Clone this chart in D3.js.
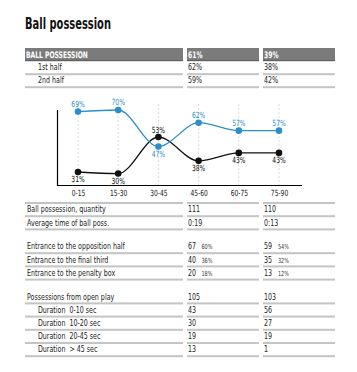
<!DOCTYPE html>
<html><head><meta charset="utf-8">
<script src="https://cdn.jsdelivr.net/npm/d3@7"></script>
<style>
body{margin:0;background:#fff;}
svg text{font-family:"DejaVu Sans Condensed","DejaVu Sans",sans-serif;white-space:pre;}
</style></head><body>
<svg id="c" width="357" height="372"></svg>
<script>
// ---- data ----
const title = "Ball possession";
const headerCells = ["BALL POSSESSION", "61%", "39%"];
const halfLabels = ["1st half", "2nd half"];
const halfA = ["62%", "59%"];
const halfB = ["38%", "42%"];
const intervals = ["0-15", "15-30", "30-45", "45-60", "60-75", "75-90"];
const teamA = [69, 70, 47, 62, 57, 57];
const teamB = [31, 30, 53, 38, 43, 43];
const group1Labels = ["Ball possession, quantity", "Average time of ball poss."];
const group1A = ["111", "0:19"];
const group1B = ["110", "0:13"];
const entranceLabels = ["Entrance to the opposition half", "Entrance to the final third", "Entrance to the penalty box"];
const entranceA = ["67", "40", "20"];
const entranceAPct = ["60%", "36%", "18%"];
const entranceB = ["59", "35", "13"];
const entranceBPct = ["54%", "32%", "12%"];
const possLabels = ["Possessions from open play", "Duration  0-10 sec", "Duration  10-20 sec", "Duration  20-45 sec", "Duration  > 45 sec"];
const possIndent = [false, true, true, true, true];
const possA = ["105", "43", "30", "19", "13"];
const possB = ["103", "56", "27", "19", "1"];

// ---- layout ----
const svg = d3.select("#c");
const cols = [[25, 183], [187, 259], [263, 335]];
const colTextX = [27, 188, 264];
const rowH = 13.2;
const lineColor = "#c4c4c4";
const blue = "#2b8fcc", black = "#111";

// calibrate horizontal squeeze so the installed font matches the narrow reference face
function measure(str, size, weight) {
  const t = svg.append("text").attr("font-size", size).attr("font-weight", weight || "normal").text(str);
  const w = t.node().getComputedTextLength();
  t.remove();
  return w;
}
const sxBody = 98 / measure("Entrance to the opposition half", 9);
const sxTitle = 86 / measure(title, 15, "bold");
const sxHead = 62 / measure("BALL POSSESSION", 9, "bold");

function txt(parent, x, y, str, size, opts) {
  opts = opts || {};
  const t = parent.append("text")
    .attr("transform", `translate(${x},${y}) scale(${opts.sx || sxBody},1)`)
    .attr("font-size", size).attr("fill", opts.fill || "#222").text(str);
  if (opts.weight) t.attr("font-weight", opts.weight);
  if (opts.anchor) t.attr("text-anchor", opts.anchor);
  return t;
}

txt(svg, 25, 29, title, 15, { weight: "bold", fill: "#111", sx: sxTitle });

// header
cols.forEach((c, i) => {
  svg.append("rect").attr("x", c[0]).attr("y", 48).attr("width", c[1] - c[0]).attr("height", 13).attr("fill", "#7b7b7b");
  svg.append("rect").attr("x", c[0]).attr("y", 60).attr("width", c[1] - c[0]).attr("height", 1.2).attr("fill", "#5e5e5e");
  txt(svg, colTextX[i] - (i === 0 ? 1 : 0), 57.8, headerCells[i], 9, { weight: "bold", fill: "#fff", sx: sxHead });
});

function rowLines(yb) {
  cols.forEach(c => {
    svg.append("rect").attr("x", c[0]).attr("y", yb - 1).attr("width", c[1] - c[0]).attr("height", 2).attr("fill", lineColor);
  });
}
function textRow(y, label, a, b, indent, aPct, bPct) {
  const base = y + rowH - 3.8;
  txt(svg, indent ? 38 : 27, base, label, 9);
  txt(svg, colTextX[1], base, a, 9);
  txt(svg, colTextX[2], base, b, 9);
  if (aPct) txt(svg, colTextX[1] + 13.5, base, aPct, 7, { fill: "#333" });
  if (bPct) txt(svg, colTextX[2] + 14, base, bPct, 7, { fill: "#333" });
  rowLines(y + rowH);
}

let y = 61;
halfLabels.forEach((l, i) => { textRow(y, l, halfA[i], halfB[i], true); y += 13; });

// ---- chart ----
const chartBottom = 203;
const x = d3.scalePoint().domain(intervals).range([78, 279]);
const yS = d3.scaleLinear().domain([23, 71]).range([184.7, 108.4]);
const axisY0 = 185, axisX0 = 57, axisX1 = 302;

const g = svg.append("g");
g.selectAll("line.grid").data(intervals).join("line")
  .attr("x1", d => x(d)).attr("x2", d => x(d)).attr("y1", 104).attr("y2", axisY0)
  .attr("stroke", "#dcdcdc").attr("stroke-dasharray", "2,2").attr("stroke-width", 1);
const xAxis = d3.axisBottom(x).tickSize(0).tickPadding(5);
const xa = g.append("g").attr("transform", `translate(0,${axisY0})`).call(xAxis);
xa.select(".domain").remove();
xa.selectAll("text").attr("font-size", 8.5).attr("fill", "#222")
  .attr("font-family", '"DejaVu Sans Condensed","DejaVu Sans",sans-serif')
  .attr("transform", `scale(${sxBody},1)`);
g.append("line").attr("x1", axisX0).attr("x2", axisX1).attr("y1", axisY0 + 0.5).attr("y2", axisY0 + 0.5).attr("stroke", "#000").attr("stroke-width", 1.2);
g.append("line").attr("x1", axisX0 + 0.5).attr("x2", axisX0 + 0.5).attr("y1", 110).attr("y2", axisY0 + 1).attr("stroke", "#000").attr("stroke-width", 1.2);

const line = d3.line().x((d, i) => x(intervals[i])).y(d => yS(d)).curve(d3.curveMonotoneX);
[[teamB, black], [teamA, blue]].forEach(([vals, col]) => {
  g.append("path").attr("d", line(vals)).attr("fill", "none").attr("stroke", col).attr("stroke-width", 1.3);
});
[[teamB, black, teamA], [teamA, blue, teamB]].forEach(([vals, col, other]) => {
  g.selectAll(null).data(vals).join("circle")
    .attr("cx", (d, i) => x(intervals[i])).attr("cy", d => yS(d)).attr("r", 3.3).attr("fill", col);
  vals.forEach((d, i) => {
    const ly = d >= other[i] ? yS(d) - 4.5 : yS(d) + 10.5;
    txt(g, x(intervals[i]), ly, d + "%", 8.5, { fill: col, anchor: "middle" });
  });
});
rowLines(chartBottom);

// ---- lower table ----
y = chartBottom;
group1Labels.forEach((l, i) => { textRow(y, l, group1A[i], group1B[i], false); y += rowH; });
y += 10.6;
entranceLabels.forEach((l, i) => { textRow(y, l, entranceA[i], entranceB[i], false, entranceAPct[i], entranceBPct[i]); y += rowH; });
y += 10.6;
possLabels.forEach((l, i) => { textRow(y, l, possA[i], possB[i], possIndent[i]); y += rowH; });
</script>
</body></html>
